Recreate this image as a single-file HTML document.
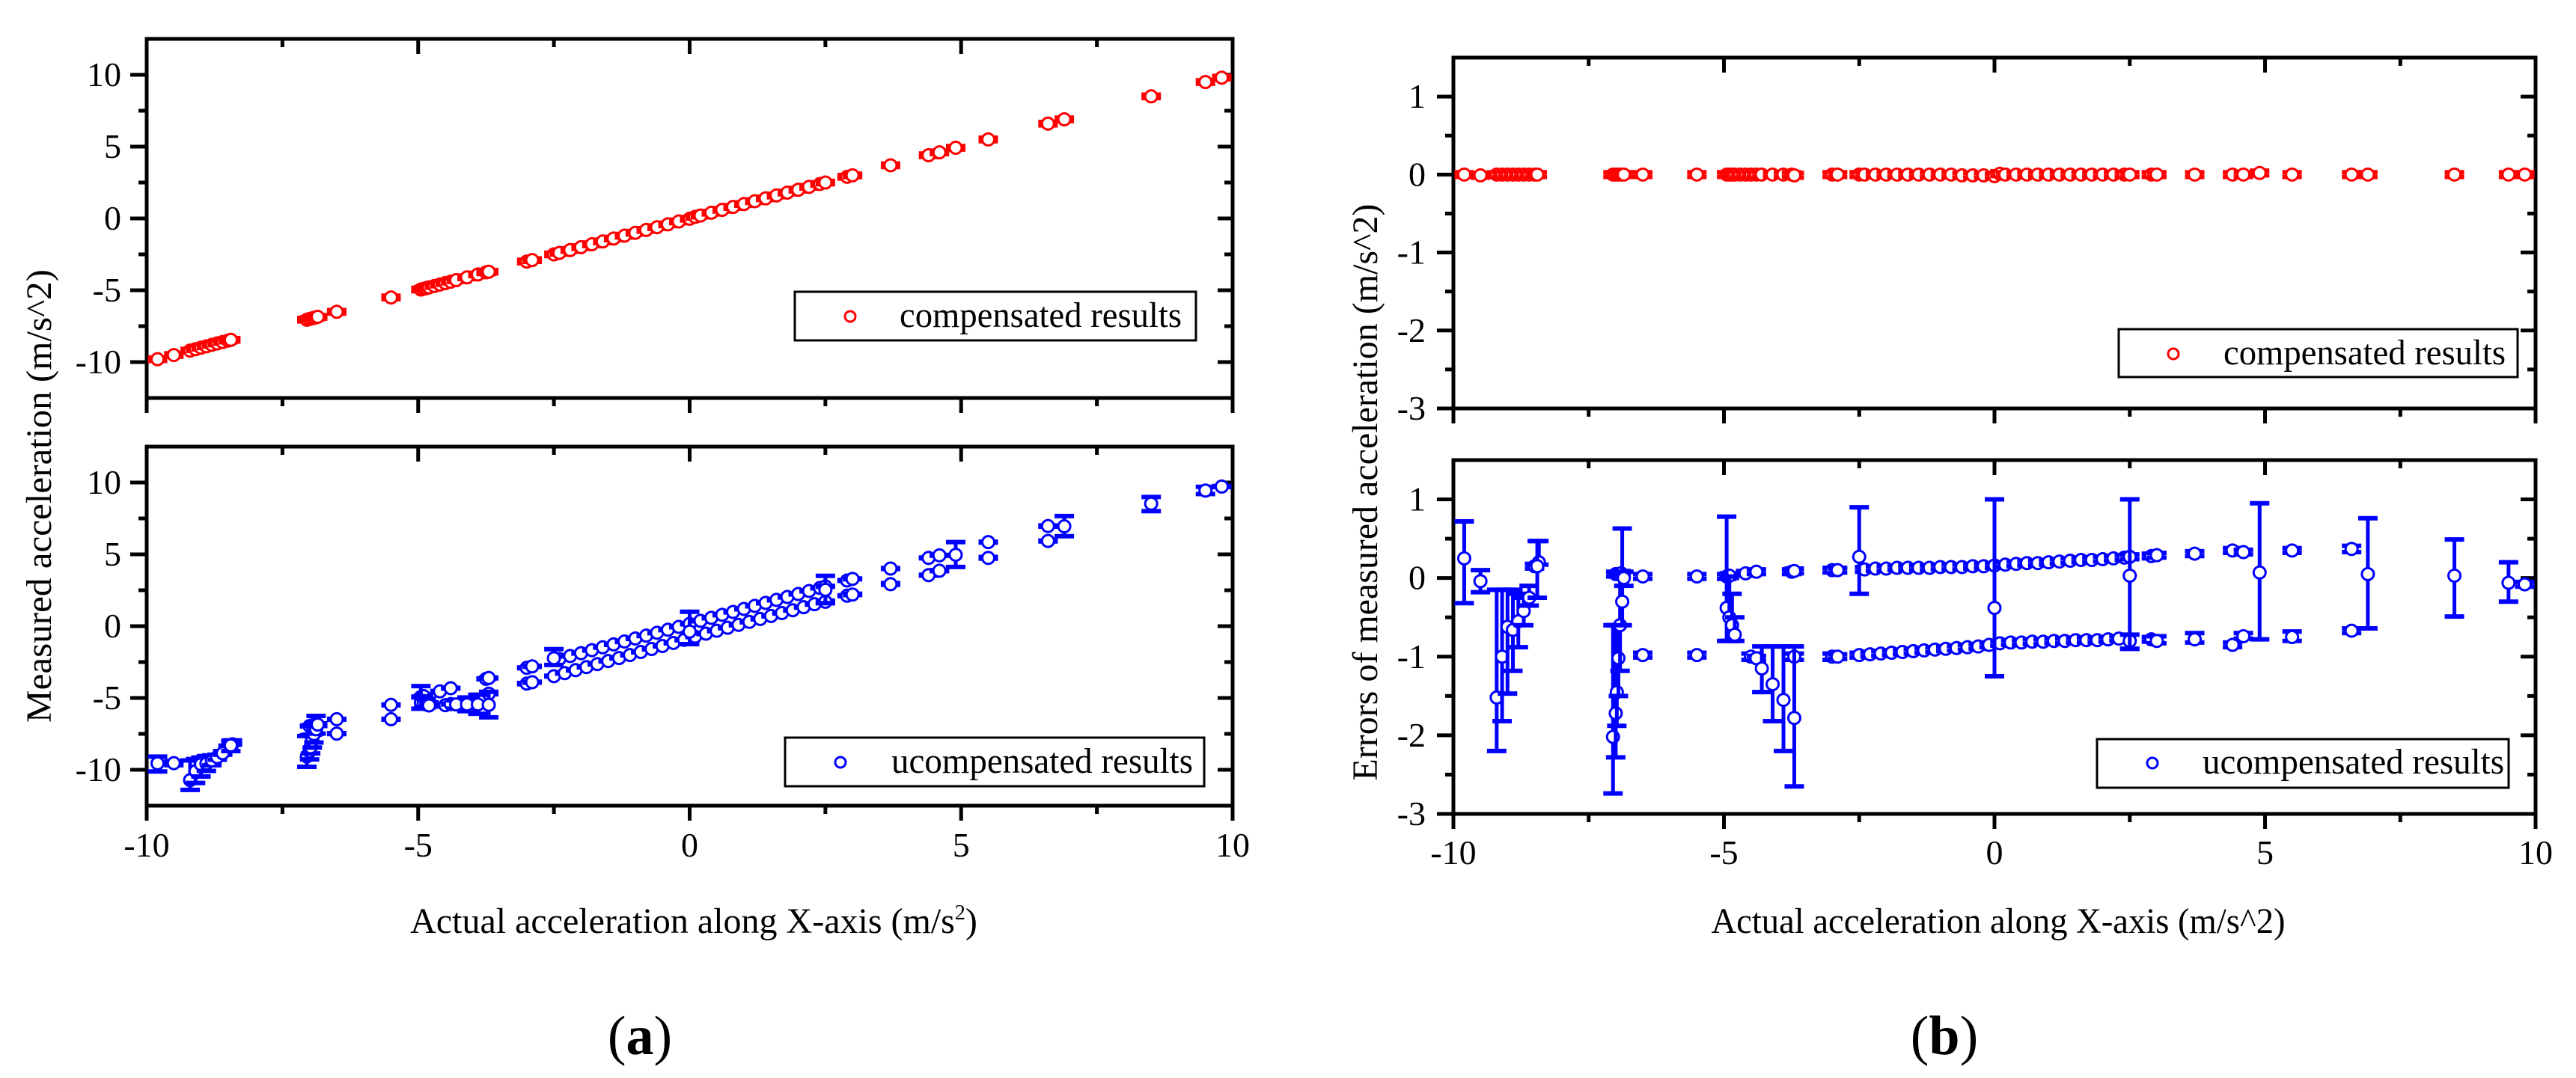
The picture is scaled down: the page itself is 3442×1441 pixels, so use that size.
<!DOCTYPE html>
<html><head><meta charset="utf-8"><style>
html,body{margin:0;padding:0;background:#fff;}
svg{display:block;font-family:"Liberation Serif","DejaVu Serif",serif;}
svg text{font-family:"Liberation Serif","DejaVu Serif",serif;fill:#000;}
</style></head><body>
<svg id="fig" width="3442" height="1441" viewBox="0 0 3442 1441" xmlns="http://www.w3.org/2000/svg"></svg>
<script>
// ---------- DATA ----------
const compX = [-9.8,-9.5,-9.2,-9.1,-9.0,-8.9,-8.8,-8.7,-8.6,-8.5,-8.45,-7.05,-7.0,-6.95,-6.9,-6.85,-6.5,-5.5,-4.95,-4.9,-4.85,-4.8,-4.7,-4.6,-4.5,-4.4,-4.3,-4.1,-3.9,-3.75,-3.7,-3.0,-2.9,-2.5,-2.4,-2.2,-2.0,-1.8,-1.6,-1.4,-1.2,-1.0,-0.8,-0.6,-0.4,-0.2,0.0,0.1,0.2,0.4,0.6,0.8,1.0,1.2,1.4,1.6,1.8,2.0,2.2,2.4,2.5,2.9,3.0,3.7,4.4,4.6,4.9,5.5,6.6,6.9,8.5,9.5,9.8];
const compErr = [0.0,-0.01,0.0,0.0,0.0,0.0,0.0,0.0,0.0,0.0,0.0,0.0,0.0,0.0,0.0,0.0,0.0,0.0,0.0,0.0,0.0,0.0,0.0,0.0,0.0,0.0,0.0,0.0,0.0,0.0,-0.01,0.0,0.0,0.0,0.0,0.0,0.0,0.0,0.0,0.0,0.0,0.0,0.0,-0.01,-0.01,-0.01,-0.02,0.01,0.0,0.0,0.0,0.0,0.0,0.0,0.0,0.0,0.0,0.0,0.0,0.0,0.0,0.0,0.0,0.0,0.0,0.0,0.02,0.0,0.0,0.0,0.0,0.0,0.0];
const compBar = 0.03;

const uncX = [-8.5,-8.42,-7.0,-6.95,-6.9,-6.5,-5.5,-4.95,-4.9,-4.6,-4.4,-3.75,-3.7,-3.0,-2.9,-2.4,-2.2,-2.0,-1.8,-1.6,-1.4,-1.2,-1.0,-0.8,-0.6,-0.4,-0.2,0.0,0.2,0.4,0.6,0.8,1.0,1.2,1.4,1.6,1.8,2.0,2.2,2.4,2.5,2.9,3.0,3.7,4.4,4.6,5.5,9.8,
 -6.5,-5.5,-4.5,-4.4,-3.7,-3.0,-2.9,-2.5,-2.3,-2.1,-1.9,-1.7,-1.5,-1.3,-1.1,-0.9,-0.7,-0.5,-0.3,-0.1,0.1,0.3,0.5,0.7,0.9,1.1,1.3,1.5,1.7,1.9,2.1,2.3,2.5,2.9,3.0,3.7,4.4,4.6,5.5,6.6,
 -9.8,-9.5,-9.2,-9.1,-9.0,-8.9,-8.8,-8.7,-8.6,-8.45,-7.05,-7.0,-6.98,-6.95,-6.92,-6.88,-6.85,-4.95,-4.9,-4.85,-4.8,-4.3,-4.1,-3.9,-3.7,-2.5,0.0,2.5,4.9,6.6,6.9,8.5,9.5];
const uncErr = [0.15,0.2,0.05,0.05,0.06,0.02,0.02,0.02,0.03,0.06,0.08,0.08,0.09,0.1,0.1,0.11,0.12,0.12,0.13,0.13,0.13,0.13,0.14,0.14,0.14,0.15,0.15,0.16,0.17,0.18,0.19,0.19,0.2,0.21,0.22,0.23,0.23,0.24,0.25,0.26,0.27,0.28,0.29,0.31,0.35,0.33,0.35,-0.08,
 -0.98,-0.98,-1.0,-1.02,-1.0,-1.0,-1.0,-0.98,-0.97,-0.96,-0.95,-0.94,-0.93,-0.92,-0.91,-0.9,-0.89,-0.88,-0.87,-0.85,-0.83,-0.82,-0.82,-0.81,-0.81,-0.8,-0.8,-0.79,-0.79,-0.79,-0.78,-0.77,-0.8,-0.78,-0.8,-0.78,-0.85,-0.74,-0.75,-0.67,
 0.25,-0.04,-1.52,-1.0,-0.62,-0.66,-0.55,-0.42,-0.25,0.15,-2.02,-1.72,-1.45,-1.02,-0.6,-0.3,0.0,-0.38,-0.5,-0.6,-0.72,-1.15,-1.35,-1.55,-1.78,0.27,-0.38,0.03,0.07,0.37,0.05,0.03,-0.06];
const uncLo = [0.12,0.17,0.02,0.02,0.03,-0.01,-0.01,-0.01,0.0,0.03,0.05,0.05,0.06,0.07,0.07,0.08,0.09,0.09,0.1,0.1,0.1,0.1,0.11,0.11,0.11,0.12,0.12,0.13,0.14,0.15,0.16,0.16,0.17,0.18,0.19,0.2,0.2,0.21,0.22,0.23,0.24,0.25,0.26,0.28,0.32,0.3,0.32,-0.11,
 -1.01,-1.01,-1.04,-1.05,-1.04,-1.04,-1.03,-1.01,-1.0,-0.99,-0.98,-0.97,-0.96,-0.95,-0.94,-0.93,-0.92,-0.91,-0.9,-0.88,-0.86,-0.85,-0.85,-0.84,-0.84,-0.83,-0.83,-0.82,-0.82,-0.82,-0.81,-0.8,-0.9,-0.81,-0.83,-0.82,-0.88,-0.77,-0.8,-0.7,
 -0.32,-0.18,-2.2,-1.82,-1.47,-1.18,-0.88,-0.6,-0.35,-0.25,-2.74,-2.28,-1.88,-1.5,-1.18,-0.6,-0.1,-0.8,-0.8,-0.8,-0.8,-1.45,-1.82,-2.2,-2.65,-0.2,-1.25,-0.9,-0.78,0.33,-0.64,-0.49,-0.3];
const uncHi = [0.18,0.47,0.08,0.08,0.09,0.05,0.05,0.05,0.06,0.09,0.11,0.11,0.12,0.13,0.13,0.14,0.15,0.15,0.16,0.16,0.16,0.16,0.17,0.17,0.17,0.18,0.18,0.19,0.2,0.21,0.22,0.22,0.23,0.24,0.25,0.26,0.26,0.27,0.28,0.29,0.3,0.31,0.32,0.34,0.38,0.36,0.38,-0.05,
 -0.95,-0.95,-0.96,-0.99,-0.96,-0.96,-0.97,-0.95,-0.94,-0.93,-0.92,-0.91,-0.9,-0.89,-0.88,-0.87,-0.86,-0.85,-0.84,-0.82,-0.8,-0.79,-0.79,-0.78,-0.78,-0.77,-0.77,-0.76,-0.76,-0.76,-0.75,-0.74,-0.72,-0.75,-0.74,-0.7,-0.82,-0.7,-0.68,-0.64,
 0.72,0.1,-0.15,-0.15,-0.15,-0.15,-0.2,-0.25,-0.1,0.47,-0.6,-0.6,-0.6,-0.6,0.05,0.63,0.08,0.78,0.02,-0.2,-0.5,-0.87,-0.87,-0.87,-0.87,0.9,1.0,1.0,0.95,0.41,0.76,0.49,0.2];

const xTicks = [-10,-5,0,5,10];
const xMinor = [-7.5,-2.5,2.5,7.5];
const yTicksA = [-10,-5,0,5,10];
const yMinorA = [-7.5,-2.5,2.5,7.5];
const yTicksB = [-3,-2,-1,0,1];
const yMinorB = [-2.5,-1.5,-0.5,0.5];

// ---------- DRAWING ----------
const NS = "http://www.w3.org/2000/svg";
const FF = "'Liberation Serif', 'DejaVu Serif', serif";
const svg = document.getElementById('fig');
function mk(tag, attrs, parent){
  const e = document.createElementNS(NS, tag);
  for (const k in attrs) e.setAttribute(k, attrs[k]);
  if (tag==='text') e.setAttribute('font-family', FF);
  (parent||svg).appendChild(e);
  return e;
}
function linScale(d0,d1,r0,r1){ return v => r0 + (v-d0)/(d1-d0)*(r1-r0); }

function drawAxes(g, P, sx, sy, yt, ym, showXLabels, xLabY, yLabRight){
  xTicks.forEach(v=>{
    const x = sx(v);
    const t1 = mk('line',{x1:x,y1:P.b,x2:x,y2:P.b+20,stroke:'#000','stroke-width':5},g);
    
    
    if (v!==-10 && v!==10){
      const t2 = mk('line',{x1:x,y1:P.t,x2:x,y2:P.t+20,stroke:'#000','stroke-width':5},g);
      
      
    }
    if (showXLabels){
      const tx = mk('text',{x:x,y:xLabY,'text-anchor':'middle','font-size':46},g);
      tx.textContent = String(v);
      
      
    }
  });
  xMinor.forEach(v=>{
    const x = sx(v);
    const t1 = mk('line',{x1:x,y1:P.b,x2:x,y2:P.b+11,stroke:'#000','stroke-width':5},g);
    
    
    const t2 = mk('line',{x1:x,y1:P.t,x2:x,y2:P.t+11,stroke:'#000','stroke-width':5},g);
    
    
  });
  yt.forEach(v=>{
    const y = sy(v);
    const t1 = mk('line',{x1:P.l-22,y1:y,x2:P.l,y2:y,stroke:'#000','stroke-width':5},g);
    
    
    const t2 = mk('line',{x1:P.r-20,y1:y,x2:P.r,y2:y,stroke:'#000','stroke-width':5},g);
    
    
    const tx = mk('text',{x:yLabRight,y:y+15,'text-anchor':'end','font-size':46},g);
    tx.textContent = String(v);
    
    
  });
  ym.forEach(v=>{
    const y = sy(v);
    const t1 = mk('line',{x1:P.l-11,y1:y,x2:P.l,y2:y,stroke:'#000','stroke-width':5},g);
    
    
    const t2 = mk('line',{x1:P.r-11,y1:y,x2:P.r,y2:y,stroke:'#000','stroke-width':5},g);
    
    
  });
  const fr = mk('rect',{x:P.l,y:P.t,width:P.r-P.l,height:P.b-P.t,fill:'none',stroke:'#000','stroke-width':5},g);
  
  
}

function drawPoints(g, sx, sy, xs, ys, los, his, color, name){
  for (let i=0;i<xs.length;i++){
    const x = sx(xs[i]);
    const y = sy(ys[i]), yl = sy(los[i]), yh = sy(his[i]);
    const pg = mk('g',{},g);
    
    
    mk('line',{x1:x,y1:yl,x2:x,y2:yh,stroke:color,'stroke-width':5},pg);
    mk('line',{x1:x-13,y1:yl,x2:x+13,y2:yl,stroke:color,'stroke-width':6},pg);
    mk('line',{x1:x-13,y1:yh,x2:x+13,y2:yh,stroke:color,'stroke-width':6},pg);
    mk('circle',{cx:x,cy:y,r:8,fill:'#fff',stroke:color,'stroke-width':3},pg);
  }
}

function legend(g, box, cx, cy, tx, label, len, color, name){
  const lg = mk('g',{},g);
  
  
  mk('rect',{x:box[0],y:box[1],width:box[2]-box[0],height:box[3]-box[1],fill:'#fff',stroke:'#000','stroke-width':3},lg);
  mk('circle',{cx:cx,cy:cy,r:7,fill:'none',stroke:color,'stroke-width':3},lg);
  const t = mk('text',{x:tx,y:cy+14,'font-size':48,textLength:len,lengthAdjust:'spacingAndGlyphs'},lg);
  t.textContent = label;
}

// ---------- PANEL A ----------
const ga = mk('g',{});  
const sxA = linScale(-10,10,196,1647);
const PA1 = {l:196,r:1647,t:52,b:532};
const syA1 = linScale(-12.5,12.5,532,52);
const PA2 = {l:196,r:1647,t:597,b:1077};
const syA2 = linScale(-12.5,12.5,1077,597);

drawAxes(ga,PA1,sxA,syA1,yTicksA,yMinorA,false,0,162);
drawAxes(ga,PA2,sxA,syA2,yTicksA,yMinorA,true,1145,162);
{
  const ys=[],lo=[],hi=[];
  compX.forEach((x,i)=>{ys.push(x+compErr[i]);lo.push(x+compErr[i]-compBar*4);hi.push(x+compErr[i]+compBar*4);});
  drawPoints(ga,sxA,syA1,compX,ys,lo,hi,'#ff0000','compensated-point');
  const ys2=[],lo2=[],hi2=[];
  uncX.forEach((x,i)=>{ys2.push(x+uncErr[i]);lo2.push(x+uncLo[i]);hi2.push(x+uncHi[i]);});
  drawPoints(ga,sxA,syA2,uncX,ys2,lo2,hi2,'#0000ff','uncompensated-point');
}
legend(ga,[1062,390,1598,455],1136,423,1202,'compensated results',377,'#ff0000','legend-compensated-a');
legend(ga,[1049,986,1609,1051],1123,1019,1191,'ucompensated results',403,'#0000ff','legend-uncompensated-a');

// ---------- PANEL B ----------
const gb = mk('g',{});  
const sxB = linScale(-10,10,1942,3388);
const PB1 = {l:1942,r:3388,t:77,b:546};
const syB1 = linScale(-3,1.5,546,77);
const PB2 = {l:1942,r:3388,t:615,b:1088};
const syB2 = linScale(-3,1.5,1088,615);
drawAxes(gb,PB1,sxB,syB1,yTicksB,yMinorB,false,0,1905);
drawAxes(gb,PB2,sxB,syB2,yTicksB,yMinorB,true,1155,1905);
{
  const lo=[],hi=[];
  compX.forEach((x,i)=>{lo.push(compErr[i]-compBar);hi.push(compErr[i]+compBar);});
  drawPoints(gb,sxB,syB1,compX,compErr,lo,hi,'#ff0000','compensated-error-point');
  drawPoints(gb,sxB,syB2,uncX,uncErr,uncLo,uncHi,'#0000ff','uncompensated-error-point');
}
legend(gb,[2831,440,3364,504],2904,473,2971,'compensated results',377,'#ff0000','legend-compensated-b');
legend(gb,[2802,988,3352,1053],2876,1020,2943,'ucompensated results',403,'#0000ff','legend-uncompensated-b');
</script>
<svg style="position:absolute;left:0;top:0" width="3442" height="1441">
  <text font-family="'Liberation Serif', 'DejaVu Serif', serif" transform="translate(68,663) rotate(-90)" text-anchor="middle" font-size="48" textLength="606" lengthAdjust="spacingAndGlyphs">Measured acceleration (m/s^2)</text>
  <text font-family="'Liberation Serif', 'DejaVu Serif', serif" x="927" y="1247" text-anchor="middle" font-size="48">Actual acceleration along X-axis (m/s<tspan font-size="28" dy="-18">2</tspan><tspan dy="18">)</tspan></text>
  <text font-family="'Liberation Serif', 'DejaVu Serif', serif" x="855" y="1409" text-anchor="middle" font-size="74"><tspan>(</tspan><tspan font-weight="bold">a</tspan><tspan>)</tspan></text>
  <text font-family="'Liberation Serif', 'DejaVu Serif', serif" transform="translate(1840,658) rotate(-90)" text-anchor="middle" font-size="48" textLength="771" lengthAdjust="spacingAndGlyphs">Errors of measured acceleration (m/s^2)</text>
  <text font-family="'Liberation Serif', 'DejaVu Serif', serif" x="2670" y="1247" text-anchor="middle" font-size="48" textLength="767" lengthAdjust="spacingAndGlyphs">Actual acceleration along X-axis (m/s^2)</text>
  <text font-family="'Liberation Serif', 'DejaVu Serif', serif" x="2598" y="1409" text-anchor="middle" font-size="74"><tspan>(</tspan><tspan font-weight="bold">b</tspan><tspan>)</tspan></text>
</svg>
</body></html>
